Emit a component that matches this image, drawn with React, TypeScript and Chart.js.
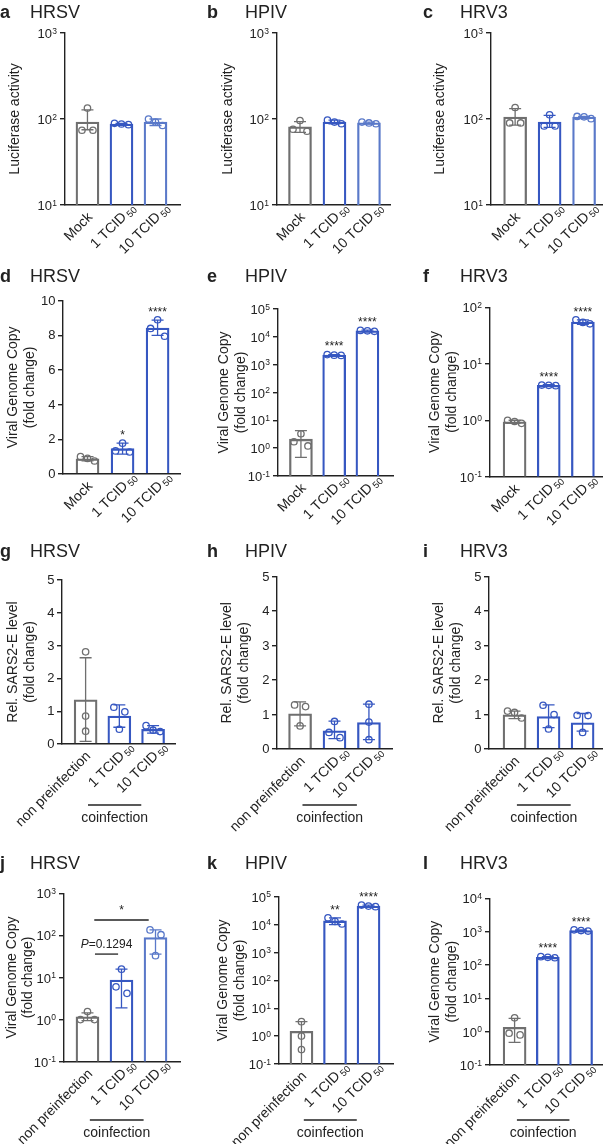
import React, { useEffect, useRef } from 'react';
import { Chart, registerables } from 'chart.js';

Chart.register(...registerables);

const FONT = "'Liberation Sans', Arial, Helvetica, sans-serif";
const INK = '#222222';
const GRAY = '#6f6f6f';
const BLUE = '#3657c1';
const BLUE2 = '#5a79c9';
Chart.defaults.font.family = FONT;
Chart.defaults.color = INK;

// ---------- categories & labels ----------
const CATS_MOCK = ['Mock', '1 TCID', '10 TCID'];
const CATS_COINF = ['non preinfection', '1 TCID', '10 TCID'];
const CAT_SUB = ['', '50', '50'];
const GROUP_LABEL = 'coinfection';
const YT_LUC = ['Luciferase activity'];
const YT_VGC = ['Viral Genome Copy', '(fold change)'];
const YT_SARS = ['Rel. SARS2-E level', '(fold change)'];

// ---------- y tick values ----------
const TICKS_LUC = [10, 100, 1000];
const TICKS_D = [0, 2, 4, 6, 8, 10];
const TICKS_E = [0.1, 1, 10, 100, 1000, 10000, 100000];
const TICKS_F = [0.1, 1, 10, 100];
const TICKS_SARS = [0, 1, 2, 3, 4, 5];
const TICKS_J = [0.1, 1, 10, 100, 1000];
const TICKS_K = [0.1, 1, 10, 100, 1000, 10000, 100000];
const TICKS_L = [0.1, 1, 10, 100, 1000, 10000];

// ---------- data ----------
// a HRSV luciferase
const A_BARS = [92, 87.5, 92];
const A_ERR = [[75, 128], [86, 89], [84, 100]];
const A_PTS = [[134, 74, 74], [89, 87.5, 86], [100, 92, 84]];
// b HPIV luciferase
const B_BARS = [81, 92, 90];
const B_ERR = [[70, 93], [88, 97], [88, 92]];
const B_PTS = [[96, 76, 72], [97, 92, 88], [92, 90, 88]];
// c HRV3 luciferase
const C_BARS = [105, 92, 105];
const C_ERR = [[85, 132], [80, 110], [101, 107]];
const C_PTS = [[136, 90, 90], [112, 83, 83], [107, 106, 101]];
// d HRSV genome copy
const D_BARS = [0.88, 1.46, 8.42];
const D_ERR = [[0.76, 1.0], [1.15, 1.78], [8.0, 8.88]];
const D_PTS = [[1.0, 0.9, 0.75], [1.78, 1.33, 1.27], [8.9, 8.4, 7.95]];
const D_SIG = ['', '*', '****'];
// e HPIV genome copy
const E_BARS = [2.1, 2200, 16500];
const E_ERR = [[0.47, 4.3], [2100, 2300], [15500, 17500]];
const E_PTS = [[3.3, 1.7, 1.2], [2300, 2200, 2150], [17000, 16500, 15800]];
const E_SIG = ['', '****', '****'];
// f HRV3 genome copy
const F_BARS = [0.94, 4.15, 55];
const F_ERR = [[0.88, 1.0], [4.05, 4.25], [50, 60]];
const F_PTS = [[1.0, 0.95, 0.88], [4.2, 4.15, 4.1], [60, 54, 51]];
const F_SIG = ['', '****', '****'];
// g HRSV SARS2-E
const G_BARS = [1.35, 0.85, 0.45];
const G_ERR = [[0.08, 2.63], [0.51, 1.19], [0.33, 0.56]];
const G_PTS = [[2.81, 0.85, 0.39], [1.12, 0.98, 0.45], [0.56, 0.42, 0.38]];
// h HPIV SARS2-E
const H_BARS = [1.02, 0.53, 0.77];
const H_ERR = [[0.67, 1.37], [0.3, 0.81], [0.27, 1.3]];
const H_PTS = [[1.28, 1.23, 0.67], [0.8, 0.48, 0.33], [1.3, 0.78, 0.27]];
// i HRV3 SARS2-E
const I_BARS = [0.99, 0.94, 0.76];
const I_ERR = [[0.88, 1.1], [0.62, 1.28], [0.52, 1.03]];
const I_PTS = [[1.1, 1.06, 0.9], [1.27, 1.0, 0.58], [0.98, 0.97, 0.48]];
// j HRSV coinfection genome copy
const J_BARS = [1.17, 8.7, 89];
const J_ERR = [[0.95, 1.45], [1.9, 15.8], [36, 135]];
const J_PTS = [[1.55, 1.0, 1.0], [15.8, 6, 4.2], [135, 104, 33]];
const J_BRACKETS = [
  { x1: 0.2, x2: 1.8, y: 232, label: '*' },
  { x1: 0.22, x2: 0.9, y: 36, label: 'P=0.1294' },
];
// k HPIV coinfection genome copy
const K_BARS = [1.5, 13500, 46500];
const K_ERR = [[0.1, 3.3], [10000, 17500], [44000, 49500]];
const K_PTS = [[3.3, 1.0, 0.33], [17500, 13000, 10500], [50000, 46000, 44000]];
const K_SIG = ['', '**', '****'];
// l HRV3 coinfection genome copy
const L_BARS = [1.35, 170, 1080];
const L_ERR = [[0.48, 2.5], [165, 178], [1040, 1130]];
const L_PTS = [[2.6, 0.9, 0.8], [178, 170, 165], [1130, 1080, 1040]];
const L_SIG = ['', '****', '****'];

// ---------- layout ----------
const COL_X = [0, 200, 400];
const COL_W = [200, 200, 208];
const ROW_Y = [0, 264, 540, 850];
const ROW_H = [264, 276, 310, 294];
const ROW_TITLE_Y = [18.3, 282, 557, 869];
const ROW_GROUP_Y = [0, 0, 805, 1120];
const COL_LETTER_X = [0, 207, 423];
const COL_TITLE_X = [30, 245, 460];
const COLORS_1 = [GRAY, BLUE, BLUE2];
const COLORS_2 = [GRAY, BLUE, BLUE];

type Bracket = { x1: number; x2: number; y: number; label: string };
type Panel = {
  letter: string; virus: string; ytitle: string[]; cats: string[];
  log: boolean; ymin: number; ymax: number; ticks: number[];
  bars: number[]; err: number[][]; pts: number[][];
  sig?: string[]; brackets?: Bracket[]; group?: boolean;
  col: number; row: number; ax: number[]; xr: number[]; tx: number; colors: string[];
};

const PANELS: Panel[] = [
  { letter: 'a', virus: 'HRSV', ytitle: YT_LUC, cats: CATS_MOCK, log: true, ymin: 10, ymax: 1000, ticks: TICKS_LUC,
    bars: A_BARS, err: A_ERR, pts: A_PTS, col: 0, row: 0, ax: [65, 180, 33, 205], xr: [-0.66, 2.72], tx: 15, colors: COLORS_1 },
  { letter: 'b', virus: 'HPIV', ytitle: YT_LUC, cats: CATS_MOCK, log: true, ymin: 10, ymax: 1000, ticks: TICKS_LUC,
    bars: B_BARS, err: B_ERR, pts: B_PTS, col: 1, row: 0, ax: [277, 390, 33, 205], xr: [-0.667, 2.61], tx: 228, colors: COLORS_1 },
  { letter: 'c', virus: 'HRV3', ytitle: YT_LUC, cats: CATS_MOCK, log: true, ymin: 10, ymax: 1000, ticks: TICKS_LUC,
    bars: C_BARS, err: C_ERR, pts: C_PTS, col: 2, row: 0, ax: [491, 602, 33, 205], xr: [-0.7, 2.52], tx: 440, colors: COLORS_1 },
  { letter: 'd', virus: 'HRSV', ytitle: YT_VGC, cats: CATS_MOCK, log: false, ymin: 0, ymax: 10, ticks: TICKS_D,
    bars: D_BARS, err: D_ERR, pts: D_PTS, sig: D_SIG, col: 0, row: 1, ax: [63, 180, 300.7, 474], xr: [-0.7, 2.64], tx: 13.3, colors: COLORS_2 },
  { letter: 'e', virus: 'HPIV', ytitle: YT_VGC, cats: CATS_MOCK, log: true, ymin: 0.1, ymax: 100000, ticks: TICKS_E,
    bars: E_BARS, err: E_ERR, pts: E_PTS, sig: E_SIG, col: 1, row: 1, ax: [278, 393, 309, 476], xr: [-0.69, 2.77], tx: 224, colors: COLORS_2 },
  { letter: 'f', virus: 'HRV3', ytitle: YT_VGC, cats: CATS_MOCK, log: true, ymin: 0.1, ymax: 100, ticks: TICKS_F,
    bars: F_BARS, err: F_ERR, pts: F_PTS, sig: F_SIG, col: 2, row: 1, ax: [490, 603, 307.3, 476.7], xr: [-0.72, 2.58], tx: 435, colors: COLORS_2 },
  { letter: 'g', virus: 'HRSV', ytitle: YT_SARS, cats: CATS_COINF, log: false, ymin: 0, ymax: 5, ticks: TICKS_SARS,
    bars: G_BARS, err: G_ERR, pts: G_PTS, group: true, col: 0, row: 2, ax: [62, 175, 580, 744], xr: [-0.7, 2.65], tx: 13.3, colors: COLORS_2 },
  { letter: 'h', virus: 'HPIV', ytitle: YT_SARS, cats: CATS_COINF, log: false, ymin: 0, ymax: 5, ticks: TICKS_SARS,
    bars: H_BARS, err: H_ERR, pts: H_PTS, group: true, col: 1, row: 2, ax: [277, 392, 576.7, 749], xr: [-0.67, 2.67], tx: 227, colors: COLORS_2 },
  { letter: 'i', virus: 'HRV3', ytitle: YT_SARS, cats: CATS_COINF, log: false, ymin: 0, ymax: 5, ticks: TICKS_SARS,
    bars: I_BARS, err: I_ERR, pts: I_PTS, group: true, col: 2, row: 2, ax: [489, 602, 576.7, 749], xr: [-0.75, 2.57], tx: 439, colors: COLORS_2 },
  { letter: 'j', virus: 'HRSV', ytitle: YT_VGC, cats: CATS_COINF, log: true, ymin: 0.1, ymax: 1000, ticks: TICKS_J,
    bars: J_BARS, err: J_ERR, pts: J_PTS, brackets: J_BRACKETS, group: true, col: 0, row: 3, ax: [64, 180, 893.3, 1061.7], xr: [-0.69, 2.72], tx: 11.7, colors: COLORS_1 },
  { letter: 'k', virus: 'HPIV', ytitle: YT_VGC, cats: CATS_COINF, log: true, ymin: 0.1, ymax: 100000, ticks: TICKS_K,
    bars: K_BARS, err: K_ERR, pts: K_PTS, sig: K_SIG, group: true, col: 1, row: 3, ax: [279, 393, 896.7, 1064], xr: [-0.67, 2.73], tx: 223, colors: COLORS_2 },
  { letter: 'l', virus: 'HRV3', ytitle: YT_VGC, cats: CATS_COINF, log: true, ymin: 0.1, ymax: 10000, ticks: TICKS_L,
    bars: L_BARS, err: L_ERR, pts: L_PTS, sig: L_SIG, group: true, col: 2, row: 3, ax: [490, 602, 898.3, 1065], xr: [-0.74, 2.63], tx: 435, colors: COLORS_2 },
];

// beeswarm-like horizontal spread of points that sit close together (pixel offsets)
function jitterPx(vals: number[], toPx: (v: number) => number): number[] {
  const idx = vals.map((v, i) => ({ i, y: toPx(v) })).sort((a, b) => a.y - b.y);
  const out = new Array(vals.length).fill(0);
  let k = 0;
  while (k < idx.length) {
    let j = k;
    while (j + 1 < idx.length && idx[j + 1].y - idx[j].y < 10) j++;
    const row = idx.slice(k, j + 1);
    const n = row.length;
    let offs: number[];
    if (n === 1) offs = [0];
    else if (n === 2) offs = [-5.5, 5.5];
    else {
      const spread = row[n - 1].y - row[0].y;
      offs = spread < 7.2 ? [-7, 0, 7] : [0, -7, 7];
    }
    row.forEach((r, m) => { out[r.i] = offs[m] ?? 0; });
    k = j + 1;
  }
  return out;
}

function makeConfig(p: Panel): any {
  const [L, R, T, B] = p.ax;
  const cellX = COL_X[p.col], cellY = ROW_Y[p.row], W = COL_W[p.col], H = ROW_H[p.row];
  const pitch = (R - L) / (p.xr[1] - p.xr[0]);
  const toPx = (v: number) => {
    const f = p.log
      ? (Math.log10(p.ymax) - Math.log10(v)) / (Math.log10(p.ymax) - Math.log10(p.ymin))
      : (p.ymax - v) / (p.ymax - p.ymin);
    return T + f * (B - T);
  };

  const datasets: any[] = [{
    type: 'bar',
    data: p.bars.map((v, i) => ({ x: i, y: v })),
    backgroundColor: 'rgba(255,255,255,0)',
    borderColor: p.colors,
    borderWidth: 1.6,
    barThickness: 23,
    order: 2,
  }];
  p.pts.forEach((vals, c) => {
    const off = jitterPx(vals, toPx);
    datasets.push({
      type: 'scatter',
      data: vals.map((v, m) => ({ x: c + off[m] / pitch, y: v })),
      pointRadius: 3.2,
      pointBorderWidth: 1.3,
      pointBackgroundColor: 'rgba(255,255,255,0)',
      pointBorderColor: p.colors[c],
      borderColor: p.colors[c],
      backgroundColor: 'rgba(255,255,255,0)',
      order: 1,
    });
  });

  const decor = {
    id: 'decor' + p.letter,
    afterDatasetsDraw(chart: any) {
      const ctx = chart.ctx; const xs = chart.scales.x, ys = chart.scales.y;
      ctx.save();
      ctx.lineWidth = 1.3;
      p.err.forEach(([lo, hi], i) => {
        const cx = xs.getPixelForValue(i);
        const yTop = ys.getPixelForValue(hi);
        const clipped = lo <= p.ymin;
        const yBot = ys.getPixelForValue(clipped ? p.ymin : lo);
        ctx.strokeStyle = p.colors[i];
        ctx.beginPath();
        ctx.moveTo(cx, yTop); ctx.lineTo(cx, yBot);
        ctx.moveTo(cx - 6, yTop); ctx.lineTo(cx + 6, yTop);
        if (!clipped) { ctx.moveTo(cx - 6, yBot); ctx.lineTo(cx + 6, yBot); }
        ctx.stroke();
      });
      ctx.restore();
    },
    afterDraw(chart: any) {
      const ctx = chart.ctx; const xs = chart.scales.x, ys = chart.scales.y; const area = chart.chartArea;
      ctx.save();
      ctx.fillStyle = INK;
      // panel letter & title
      ctx.textAlign = 'left'; ctx.textBaseline = 'alphabetic';
      ctx.font = `bold 18px ${FONT}`;
      ctx.fillText(p.letter, COL_LETTER_X[p.col] - cellX, ROW_TITLE_Y[p.row] - cellY);
      ctx.font = `18px ${FONT}`;
      ctx.fillText(p.virus, COL_TITLE_X[p.col] - cellX, ROW_TITLE_Y[p.row] - cellY);
      // y tick labels
      p.ticks.forEach((v) => {
        const py = ys.getPixelForValue(v);
        ctx.textAlign = 'right';
        if (p.log) {
          const tx = area.left - 8;
          const e = String(Math.round(Math.log10(v)));
          ctx.font = `8.5px ${FONT}`; ctx.textBaseline = 'alphabetic';
          ctx.fillText(e, tx, py + 0.5);
          const w = ctx.measureText(e).width;
          ctx.font = `13px ${FONT}`; ctx.textBaseline = 'middle';
          ctx.fillText('10', tx - w - 0.3, py + 1.5);
        } else {
          ctx.font = `13px ${FONT}`; ctx.textBaseline = 'middle';
          ctx.fillText(String(v), area.left - 7.5, py + 0.5);
        }
      });
      // x category labels (rotated, with subscript)
      p.cats.forEach((lab, i) => {
        const cx = xs.getPixelForValue(i);
        ctx.save();
        ctx.translate(cx + 3, area.bottom + 10);
        ctx.rotate(-Math.PI / 4);
        ctx.font = `14px ${FONT}`; ctx.textAlign = 'right'; ctx.textBaseline = 'middle';
        ctx.fillText(lab, 0, 0);
        if (CAT_SUB[i]) {
          ctx.font = `9.5px ${FONT}`; ctx.textAlign = 'left';
          ctx.fillText(CAT_SUB[i], 2, 3.5);
        }
        ctx.restore();
      });
      // significance stars
      if (p.sig) {
        p.sig.forEach((s, i) => {
          if (!s) return;
          const cx = xs.getPixelForValue(i);
          let top = ys.getPixelForValue(p.err[i][1]);
          p.pts[i].forEach((v) => { top = Math.min(top, ys.getPixelForValue(v) - 3.2); });
          ctx.font = `12px ${FONT}`; ctx.textAlign = 'center'; ctx.textBaseline = 'alphabetic';
          ctx.fillText(s, cx, top - 1);
        });
      }
      // comparison brackets
      (p.brackets || []).forEach((b) => {
        const x1 = xs.getPixelForValue(b.x1), x2 = xs.getPixelForValue(b.x2), y = ys.getPixelForValue(b.y);
        ctx.strokeStyle = INK; ctx.lineWidth = 1.3;
        ctx.beginPath(); ctx.moveTo(x1, y); ctx.lineTo(x2, y); ctx.stroke();
        const mid = (x1 + x2) / 2;
        ctx.textBaseline = 'alphabetic';
        if (b.label.startsWith('P=')) {
          ctx.font = `italic 12px ${FONT}`; const wP = ctx.measureText('P').width;
          const rest = b.label.slice(1);
          ctx.font = `12px ${FONT}`; const wR = ctx.measureText(rest).width;
          const start = mid - (wP + wR) / 2;
          ctx.textAlign = 'left';
          ctx.font = `italic 12px ${FONT}`; ctx.fillText('P', start, y - 6);
          ctx.font = `12px ${FONT}`; ctx.fillText(rest, start + wP, y - 6);
        } else {
          ctx.font = `12px ${FONT}`; ctx.textAlign = 'center';
          ctx.fillText(b.label, mid, y - 6);
        }
      });
      // coinfection group line
      if (p.group) {
        const x1 = xs.getPixelForValue(0.07), x2 = xs.getPixelForValue(1.65);
        const ly = ROW_GROUP_Y[p.row] - cellY;
        ctx.strokeStyle = INK; ctx.lineWidth = 1.3;
        ctx.beginPath(); ctx.moveTo(x1, ly); ctx.lineTo(x2, ly); ctx.stroke();
        ctx.font = `14px ${FONT}`; ctx.textAlign = 'center'; ctx.textBaseline = 'middle';
        ctx.fillText(GROUP_LABEL, (x1 + x2) / 2, ly + 13);
      }
      ctx.restore();
    },
  };

  return {
    type: 'bar',
    data: { datasets },
    plugins: [decor],
    options: {
      responsive: false,
      animation: false,
      devicePixelRatio: 1,
      events: [],
      layout: { padding: { left: 0, top: T - cellY, right: cellX + W - R, bottom: 0 } },
      plugins: { legend: { display: false }, tooltip: { enabled: false }, title: { display: false } },
      scales: {
        x: {
          type: 'linear', min: p.xr[0], max: p.xr[1], offset: false,
          grid: { display: false, offset: false },
          ticks: { display: false },
          border: { display: true, color: INK, width: 1.4 },
          afterFit: (s: any) => { s.height = cellY + H - B; },
        },
        y: {
          type: p.log ? 'logarithmic' : 'linear', min: p.ymin, max: p.ymax, position: 'left',
          grid: { display: true, drawOnChartArea: false, drawTicks: true, tickLength: 5, color: INK, lineWidth: 1.4 },
          border: { display: true, color: INK, width: 1.4 },
          ticks: { display: false },
          afterBuildTicks: (s: any) => { s.ticks = p.ticks.map((v) => ({ value: v })); },
          afterFit: (s: any) => { s.width = L - cellX; },
          title: {
            display: true, text: p.ytitle, color: INK,
            font: { size: 14, family: FONT, lineHeight: 1.2 },
            padding: { top: Math.max(0, p.tx - cellX - 8.4), bottom: 0 },
          },
        },
      },
    },
  };
}

function PanelChart({ p }: { p: Panel }) {
  const ref = useRef<HTMLCanvasElement>(null);
  useEffect(() => {
    const cv = ref.current;
    if (!cv) return;
    const chart = new Chart(cv, makeConfig(p));
    return () => chart.destroy();
  }, [p]);
  const x = COL_X[p.col], y = ROW_Y[p.row], w = COL_W[p.col], h = ROW_H[p.row];
  return (
    <canvas
      ref={ref}
      width={w}
      height={h}
      style={{ position: 'absolute', left: x, top: y, width: w, height: h }}
    />
  );
}

export default function App() {
  return (
    <div style={{ position: 'absolute', left: 0, top: 0, width: 608, height: 1144, background: '#ffffff', overflow: 'hidden' }}>
      {PANELS.map((p) => <PanelChart key={p.letter} p={p} />)}
    </div>
  );
}
